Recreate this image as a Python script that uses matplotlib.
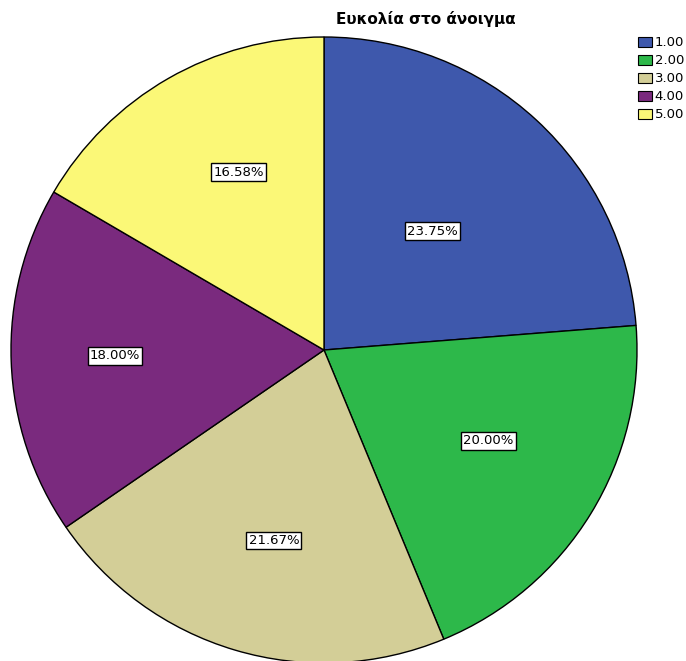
import matplotlib
matplotlib.use("Agg")
import matplotlib.pyplot as plt
import numpy as np

plt.rcParams['font.family'] = ['DejaVu Sans']

title = "Ευκολία στο άνοιγμα"
categories = ["1.00", "2.00", "3.00", "4.00", "5.00"]
percentages = [23.75, 20.00, 21.67, 18.00, 16.58]
colors = ["#3E58AC", "#2DB84A", "#D3CE97", "#7A2A7E", "#FBF877"]
# label placement: fraction of the radius and angular nudge (degrees) from the wedge middle
label_radius = [0.515, 0.60, 0.63, 0.668, 0.63]
label_nudge = [0.3, 2.6, 1.8, -0.5, -4.3]

W, H = 686, 661
fig = plt.figure(figsize=(W / 100, H / 100), dpi=100)
ax = fig.add_axes([0, 0, 1, 1])

cx, cy, r = 324, H - 350, 313
wedges, _ = ax.pie(percentages, colors=colors, startangle=90, counterclock=False,
                   radius=r, center=(cx, cy), frame=True,
                   wedgeprops=dict(edgecolor='black', linewidth=1.0))
ax.set_xlim(0, W)
ax.set_ylim(0, H)
ax.set_aspect('equal')
ax.axis('off')

for w, pct, lr, dn in zip(wedges, percentages, label_radius, label_nudge):
    ang = np.deg2rad((w.theta1 + w.theta2) / 2 + dn)
    x = cx + lr * r * np.cos(ang)
    y = cy + lr * r * np.sin(ang)
    ax.text(x, y, f"{pct:.2f}%", ha='center', va='center', fontsize=9.5,
            bbox=dict(boxstyle='square,pad=0.17', facecolor='white',
                      edgecolor='black', linewidth=1.0))

fig.text(426 / W, 1 - 19 / H, title, ha='center', va='center',
         fontsize=11, fontweight='bold')

handles = [plt.Rectangle((0, 0), 1, 1, facecolor=c, edgecolor='black', linewidth=0.8)
           for c in colors]
fig.legend(handles, categories, loc='upper left',
           bbox_to_anchor=(637 / W, 1 - 35 / H), frameon=False, fontsize=9.5,
           handlelength=1.05, handleheight=0.83, handletextpad=0.2,
           labelspacing=0.38, borderpad=0.1, borderaxespad=0)

fig.savefig("out.png", dpi=100, facecolor='white')
